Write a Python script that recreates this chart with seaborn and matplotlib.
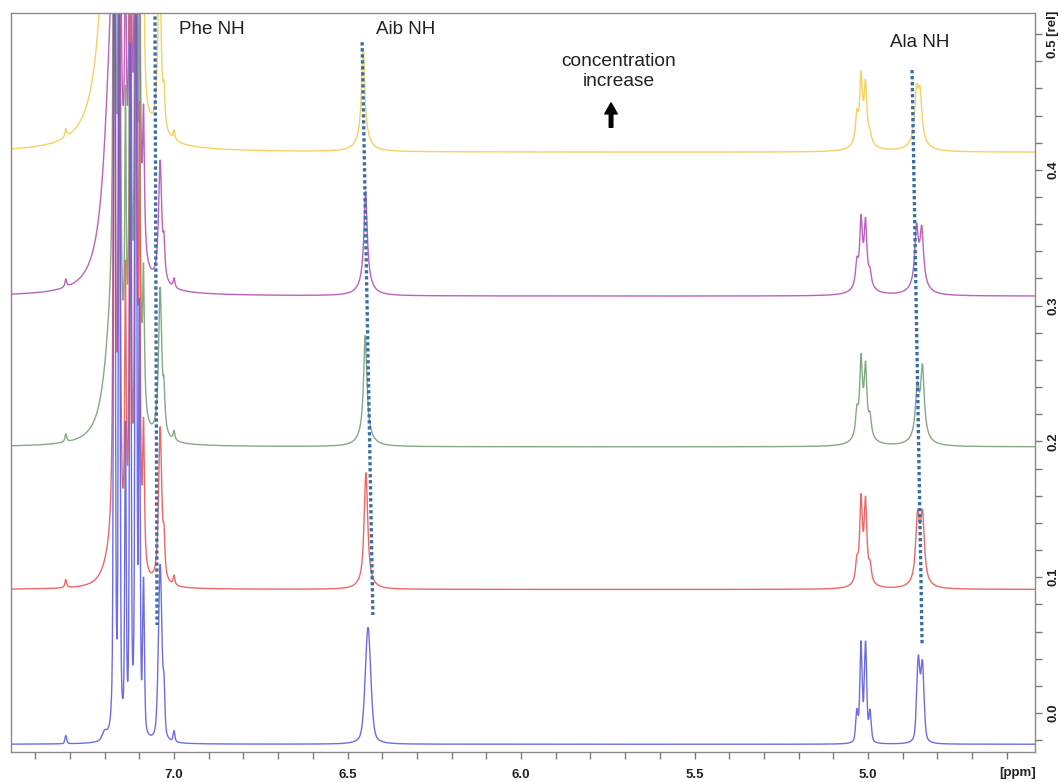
import numpy as np
import pandas as pd
import matplotlib
matplotlib.use("Agg")
import matplotlib.pyplot as plt
import seaborn as sns
from matplotlib.patches import FancyArrowPatch
from matplotlib.ticker import FixedLocator, FuncFormatter

# ---------------------------------------------------------------------------
# 1H NMR peak tables (chemical shift in ppm, peak height in rel. units,
# line width FWHM in ppm), one table per concentration, lowest first.
# The last three entries of each table are the broad bases under the
# Aib NH, the 5.0 ppm multiplet and the Ala NH signals.
# ---------------------------------------------------------------------------
samples = ["c1", "c2", "c3", "c4", "c5"]
sample_colors = ["#5c5ce4", "#ec5656", "#78a078", "#b550b5", "#f4cc52"]
baseline_offsets = [-0.023, 0.091, 0.196, 0.307, 0.413]
lorentz_fraction = [0.45, 0.85, 1.0, 1.0, 1.0]

ppm_c1 = [7.312, 7.200, 7.172, 7.158, 7.140, 7.126, 7.110, 7.100, 7.088,
          7.040, 7.029, 7.000, 6.441, 5.032, 5.020, 5.007, 4.994, 4.855, 4.843,
          6.441, 5.013, 4.849]
height_c1 = [0.006, 0.006, 0.80, 0.60, 0.22, 0.50, 0.80, 0.30, 0.11,
             0.13, 0.030, 0.008, 0.086, 0.022, 0.072, 0.072, 0.022, 0.060, 0.056,
             0.000, 0.000, 0.000]
fwhm_c1 = [0.006, 0.016, 0.005, 0.005, 0.005, 0.005, 0.005, 0.005, 0.006,
           0.012, 0.006, 0.006, 0.019, 0.008, 0.008, 0.008, 0.008, 0.011, 0.011,
           0.040, 0.045, 0.045]

ppm_c2 = [7.312, 7.180, 7.172, 7.158, 7.140, 7.126, 7.110, 7.100, 7.088,
          7.040, 7.029, 7.000, 6.447, 5.032, 5.020, 5.007, 4.994, 4.857, 4.843,
          6.447, 5.013, 4.850]
height_c2 = [0.006, 0.020, 0.90, 0.70, 0.20, 0.55, 0.90, 0.30, 0.10,
             0.115, 0.025, 0.007, 0.080, 0.014, 0.058, 0.056, 0.011, 0.046, 0.046,
             0.006, 0.006, 0.006]
fwhm_c2 = [0.006, 0.050, 0.005, 0.005, 0.005, 0.005, 0.005, 0.005, 0.006,
           0.011, 0.006, 0.006, 0.012, 0.009, 0.009, 0.009, 0.009, 0.013, 0.013,
           0.040, 0.045, 0.045]

ppm_c3 = [7.312, 7.180, 7.172, 7.158, 7.140, 7.126, 7.110, 7.100, 7.088,
          7.040, 7.029, 7.000, 6.449, 5.032, 5.020, 5.007, 4.994, 4.858, 4.843,
          6.449, 5.013, 4.850]
height_c3 = [0.006, 0.080, 0.90, 0.70, 0.20, 0.55, 0.90, 0.30, 0.10,
             0.110, 0.025, 0.007, 0.072, 0.017, 0.052, 0.046, 0.013, 0.033, 0.048,
             0.010, 0.010, 0.009]
fwhm_c3 = [0.006, 0.050, 0.005, 0.005, 0.005, 0.005, 0.005, 0.005, 0.006,
           0.011, 0.006, 0.006, 0.011, 0.009, 0.009, 0.009, 0.009, 0.012, 0.012,
           0.040, 0.045, 0.045]

ppm_c4 = [7.312, 7.180, 7.172, 7.158, 7.140, 7.126, 7.110, 7.100, 7.088,
          7.040, 7.029, 7.000, 6.448, 5.032, 5.020, 5.007, 4.994, 4.860, 4.845,
          6.448, 5.013, 4.852]
height_c4 = [0.006, 0.170, 0.90, 0.70, 0.20, 0.55, 0.90, 0.30, 0.10,
             0.090, 0.022, 0.007, 0.067, 0.016, 0.044, 0.042, 0.009, 0.040, 0.038,
             0.010, 0.010, 0.009]
fwhm_c4 = [0.006, 0.050, 0.005, 0.005, 0.005, 0.005, 0.005, 0.005, 0.006,
           0.011, 0.006, 0.006, 0.011, 0.009, 0.009, 0.009, 0.009, 0.012, 0.012,
           0.040, 0.045, 0.045]

ppm_c5 = [7.312, 7.180, 7.172, 7.158, 7.140, 7.126, 7.110, 7.100, 7.088,
          7.042, 7.029, 7.000, 6.455, 5.032, 5.020, 5.007, 4.994, 4.860, 4.850,
          6.455, 5.013, 4.855]
height_c5 = [0.006, 0.300, 0.90, 0.70, 0.20, 0.55, 0.90, 0.30, 0.10,
             0.130, 0.022, 0.007, 0.066, 0.019, 0.044, 0.038, 0.005, 0.033, 0.031,
             0.010, 0.010, 0.009]
fwhm_c5 = [0.006, 0.050, 0.005, 0.005, 0.005, 0.005, 0.005, 0.005, 0.006,
           0.011, 0.006, 0.006, 0.011, 0.009, 0.009, 0.009, 0.009, 0.012, 0.012,
           0.040, 0.045, 0.045]

peak_tables = [
    (ppm_c1, height_c1, fwhm_c1),
    (ppm_c2, height_c2, fwhm_c2),
    (ppm_c3, height_c3, fwhm_c3),
    (ppm_c4, height_c4, fwhm_c4),
    (ppm_c5, height_c5, fwhm_c5),
]

# signal assignments and the dotted guides that follow each NH signal
nh_labels = ["Phe NH", "Aib NH", "Ala NH"]
nh_label_ppm = [6.890, 6.334, 4.850]
nh_label_rel = [0.503, 0.503, 0.494]
guide_ppm_top = [7.055, 6.458, 4.873]
guide_rel_top = [0.513, 0.494, 0.4735]
guide_ppm_bottom = [7.049, 6.427, 4.844]
guide_rel_bottom = [0.0648, 0.0722, 0.050]

x_ticks = [round(v, 1) for v in np.arange(4.6, 7.45, 0.1)]
y_ticks = [round(v, 2) for v in np.arange(-0.02, 0.51, 0.02)]


def pseudo_voigt(x, center, height, fwhm, eta):
    lor = 1.0 / (1.0 + (2.0 * (x - center) / fwhm) ** 2)
    gau = np.exp(-4.0 * np.log(2.0) * ((x - center) / fwhm) ** 2)
    return height * (eta * lor + (1.0 - eta) * gau)


ppm_axis = np.arange(4.50, 7.48, 0.0004)
frames = []
for name, (pp, hh, ww), off, eta in zip(samples, peak_tables,
                                         baseline_offsets, lorentz_fraction):
    y = np.full_like(ppm_axis, off)
    for c, h, w in zip(pp, hh, ww):
        y += pseudo_voigt(ppm_axis, c, h, w, eta)
    frames.append(pd.DataFrame({"ppm": ppm_axis, "rel": y, "sample": name}))
spectra = pd.concat(frames, ignore_index=True)

# ---------------------------------------------------------------------------
sns.set_theme(style="white")
plt.rcParams["font.family"] = ["Liberation Sans", "DejaVu Sans"]

fig = plt.figure(figsize=(10.64, 7.82), dpi=100)
ax = fig.add_axes([0.01034, 0.03836, 0.96240, 0.94502])

sns.lineplot(data=spectra, x="ppm", y="rel", hue="sample",
             hue_order=samples[::-1], palette=dict(zip(samples, sample_colors)),
             estimator=None, sort=False, legend=False, lw=1.0, alpha=0.9, ax=ax)

ax.set_xlim(7.47, 4.5187)
ax.set_ylim(-0.0287, 0.5155)
ax.set_xlabel("")
ax.set_ylabel("")

for x0, y0, x1, y1 in zip(guide_ppm_top, guide_rel_top,
                          guide_ppm_bottom, guide_rel_bottom):
    ax.plot([x0, x1], [y0, y1], color="#3b6ea5", lw=2.4,
            linestyle=(0, (1, 0.8)), zorder=5)

for lab, xp, yp in zip(nh_labels, nh_label_ppm, nh_label_rel):
    ax.text(xp, yp, lab, ha="center", va="center", fontsize=13.5,
            color="#222222")

ax.text(5.7176, 0.4722, "concentration\nincrease", ha="center", va="center",
        fontsize=13.8, color="#222222", linespacing=1.2)
arrow = FancyArrowPatch((5.7406, 0.4293), (5.7406, 0.4514),
                        arrowstyle="simple,head_length=8,head_width=9,tail_width=2.6",
                        mutation_scale=1, color="black", zorder=6)
ax.add_patch(arrow)

# axes frame and ticks
for side in ["left", "right", "top", "bottom"]:
    ax.spines[side].set_visible(True)
    ax.spines[side].set_color("#8a8a8a")
    ax.spines[side].set_linewidth(1.0)

ax.xaxis.set_major_locator(FixedLocator(x_ticks))
ax.xaxis.set_major_formatter(FuncFormatter(
    lambda v, p: f"{v:.1f}" if abs(v * 2 - round(v * 2)) < 1e-6 else ""))
ax.yaxis.set_major_locator(FixedLocator(y_ticks))


def ylab(v, p):
    if abs(v * 10 - round(v * 10)) > 1e-6 or v < -1e-9:
        return ""
    return "0.5 [rel]" if abs(v - 0.5) < 1e-6 else f"{abs(v):.1f}"


ax.yaxis.set_major_formatter(FuncFormatter(ylab))
ax.yaxis.tick_right()
ax.tick_params(axis="x", bottom=True, top=False, direction="out", length=5,
               width=1, color="#7a7a7a", pad=7, labelsize=9.5,
               labelcolor="#222222")
ax.tick_params(axis="y", right=True, left=False, labelright=True,
               labelleft=False, direction="out", length=5, width=1,
               color="#7a7a7a", pad=4, labelsize=9.5, labelcolor="#222222")
for t in ax.get_xticklabels():
    t.set_fontweight("bold")
for t in ax.get_yticklabels():
    t.set_fontweight("bold")
    t.set_rotation(90)
    t.set_va("center")
    t.set_ha("left")

fig.text(1018 / 1064, 1 - 773 / 782, "[ppm]", ha="center", va="center",
         fontsize=9.5, fontweight="bold", color="#222222")

fig.savefig("out.png", dpi=100, facecolor="white")
